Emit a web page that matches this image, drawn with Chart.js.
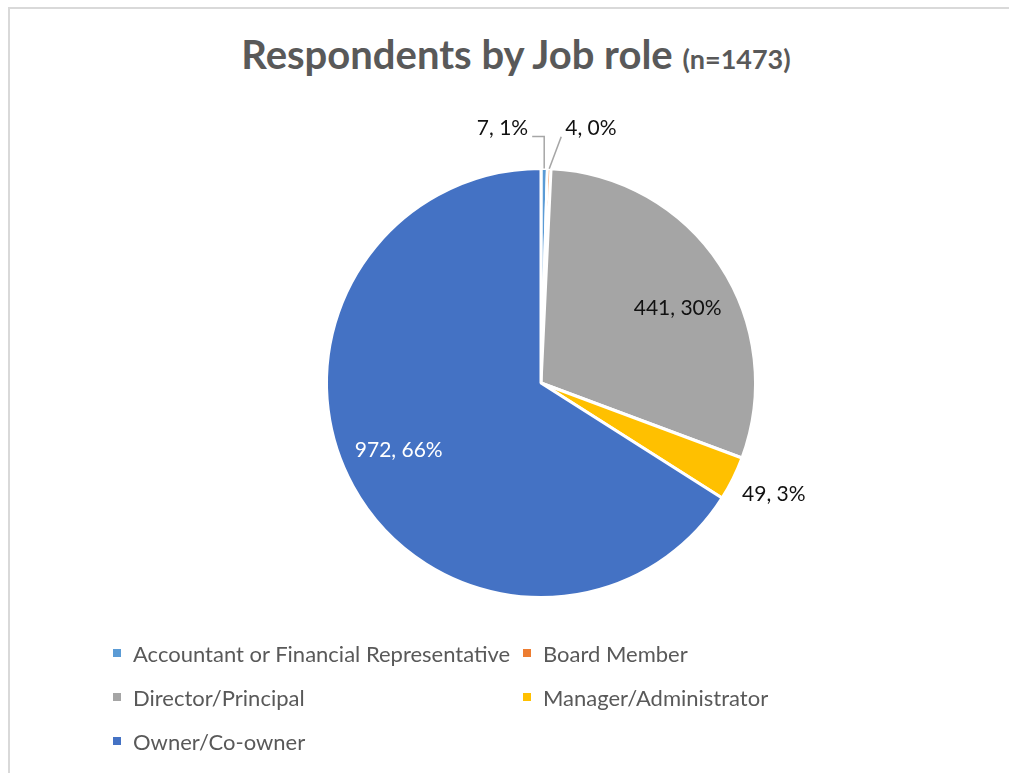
<!DOCTYPE html>
<html>
<head>
<meta charset="utf-8">
<script src="https://cdn.jsdelivr.net/npm/chart.js@4.4.1/dist/chart.umd.min.js"></script>
<style>
  body { margin: 0; background: #fff; font-family: Lato, "Open Sans", sans-serif; overflow: hidden; }
  #frame { position: absolute; left: 8px; top: 7px; width: 1200px; height: 1000px;
           border-left: 2px solid #d9d9d9; border-top: 2px solid #d9d9d9; }
  #title { position: absolute; left: 0; top: 30px; width: 1032px; text-align: center;
           color: #595959; font-weight: bold; font-size: 40px; white-space: nowrap; }
  #title small { font-size: 27px; }
  #wrap { position: absolute; left: 0; top: 0; width: 1009px; height: 773px; }
  #legend { position: absolute; left: 113px; top: 640px; display: grid;
            grid-template-columns: 410px 410px; grid-auto-rows: 44px; color: #595959; font-size: 22px; }
  #legend div { display: flex; align-items: center; height: 26px; white-space: nowrap; }
  #legend span.box { display: inline-block; width: 8px; height: 8px; margin-right: 12px; }
</style>
</head>
<body>
<div id="frame"></div>
<div id="title">Respondents by Job role <small>(n=1473)</small></div>
<div id="wrap"><canvas id="pieChart"></canvas></div>
<div id="legend"></div>
<script>
// data
const roles = ['Accountant or Financial Representative', 'Board Member', 'Director/Principal', 'Manager/Administrator', 'Owner/Co-owner'];
const counts = [7, 4, 441, 49, 972];
const percents = [1, 0, 30, 3, 66];   // as printed on the labels

const colors = ['#5b9bd5', '#ed7d31', '#a5a5a5', '#ffc000', '#4472c4'];
// how each label sits: inside the slice, outside, or on a leader line
const placement = ['elbowLeft', 'diagRight', 'inside', 'outside', 'inside'];
const nudge = [[0, 0], [0, 0], [6, 11], [9, 16], [-5, -8]];
const labelColor = ['#111', '#111', '#111', '#111', '#fff'];

const sliceLabels = {
  id: 'sliceLabels',
  afterDatasetsDraw(chart) {
    const ctx = chart.ctx;
    const meta = chart.getDatasetMeta(0);
    ctx.save();
    ctx.font = '21px Lato, "Open Sans", sans-serif';
    ctx.textBaseline = 'middle';
    meta.data.forEach((arc, i) => {
      const p = arc.getProps(['x', 'y', 'startAngle', 'endAngle', 'outerRadius'], true);
      const mid = (p.startAngle + p.endAngle) / 2;
      const text = counts[i] + ', ' + percents[i] + '%';
      const ex = p.x + Math.cos(mid) * p.outerRadius;
      const ey = p.y + Math.sin(mid) * p.outerRadius;
      ctx.fillStyle = labelColor[i];
      if (placement[i] === 'inside') {
        const r = p.outerRadius * 0.73;
        ctx.textAlign = 'center';
        ctx.fillText(text, p.x + Math.cos(mid) * r + nudge[i][0], p.y + Math.sin(mid) * r + nudge[i][1]);
      } else if (placement[i] === 'outside') {
        ctx.textAlign = 'left';
        ctx.fillText(text, ex + nudge[i][0], ey + nudge[i][1]);
      } else {
        ctx.strokeStyle = '#a6a6a6';
        ctx.lineWidth = 1.5;
        ctx.beginPath();
        if (placement[i] === 'elbowLeft') {
          ctx.moveTo(ex, ey);
          ctx.lineTo(ex, ey - 32);
          ctx.lineTo(ex - 12, ey - 32);
          ctx.stroke();
          ctx.textAlign = 'right';
          ctx.fillText(text, ex - 16, ey - 40);
        } else {
          ctx.moveTo(ex, ey);
          ctx.lineTo(ex + 12, ey - 32);
          ctx.stroke();
          ctx.textAlign = 'left';
          ctx.fillText(text, ex + 16, ey - 40);
        }
      }
    });
    ctx.restore();
  }
};

const pieCtx = document.getElementById('pieChart');
new Chart(pieCtx, {
  type: 'pie',
  data: {
    labels: roles,
    datasets: [{
      data: counts,
      backgroundColor: colors,
      borderColor: '#fff',
      borderWidth: 3
    }]
  },
  options: {
    responsive: true,
    maintainAspectRatio: false,
    animation: false,
    layout: { padding: { left: 325, right: 252, top: 167, bottom: 174 } },
    plugins: { legend: { display: false }, tooltip: { enabled: false } }
  },
  plugins: [sliceLabels]
});

// legend in a two-column grid like the original
const legend = document.getElementById('legend');
roles.forEach((r, i) => {
  const item = document.createElement('div');
  item.innerHTML = '<span class="box" style="background:' + colors[i] + '"></span>' + r;
  legend.appendChild(item);
});
</script>
</body>
</html>
